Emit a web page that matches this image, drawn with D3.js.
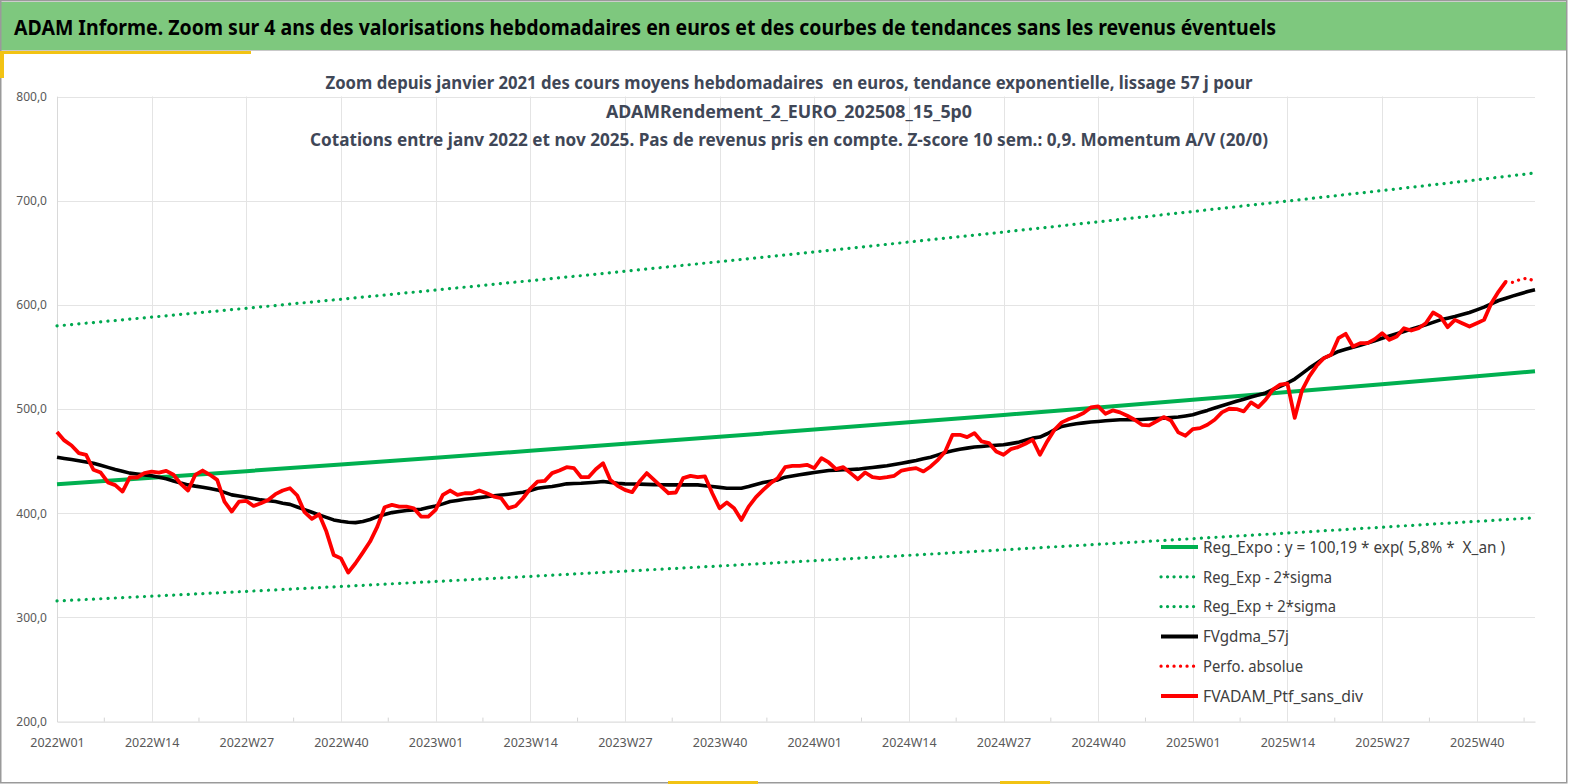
<!DOCTYPE html>
<html>
<head>
<meta charset="utf-8">
<script src="https://cdn.jsdelivr.net/npm/d3@7"></script>
<style>
  body { margin: 0; background: #fff; }
  svg { display: block; font-family: "Noto Sans", "Open Sans", sans-serif; }
</style>
</head>
<body>
<div id="chart"></div>
<script>
// Weekly categories: 2022W01 .. 2025W48
const startYear = 2022;
const weeksPerYear = 52;
const nWeeks = 204;

// FVADAM_Ptf_sans_div (weekly average, euros)
const redValues = [
  477.9, 469.9, 465.0, 457.7, 456.0, 441.7, 439.0, 429.5, 427.0, 420.8,
  434.3, 434.3, 438.5, 440.0, 439.0, 440.7, 436.9, 428.2, 421.8, 436.9,
  441.0, 436.9, 432.0, 411.2, 401.6, 411.2, 411.9, 407.0, 409.6, 412.8,
  418.3, 421.8, 424.0, 417.0, 401.0, 394.6, 399.0, 382.4, 360.0, 356.7,
  343.0, 352.0, 362.2, 372.8, 387.2, 405.8, 408.0, 406.4, 406.4, 404.8,
  396.8, 396.8, 403.2, 417.6, 421.8, 417.6, 419.2, 419.2, 421.8, 419.2,
  416.0, 414.4, 404.8, 407.0, 414.4, 423.5, 430.4, 431.1, 438.5, 441.0,
  444.2, 443.3, 434.6, 434.6, 442.3, 448.0, 432.0, 426.3, 422.4, 420.2,
  430.4, 438.5, 432.0, 425.6, 419.2, 419.9, 433.7, 435.9, 434.6, 435.3,
  419.2, 404.8, 410.3, 404.8, 393.6, 406.4, 415.4, 422.4, 428.8, 433.7,
  444.2, 445.5, 445.5, 446.5, 443.3, 452.9, 448.7, 442.3, 444.2, 438.5,
  432.7, 439.1, 434.6, 433.7, 434.6, 435.9, 441.0, 442.3, 443.3, 440.1,
  444.9, 451.3, 459.3, 475.3, 475.3, 473.1, 476.9, 468.9, 467.3, 459.3,
  456.1, 461.5, 463.5, 466.7, 470.5, 456.1, 468.9, 480.1, 487.2, 490.4,
  492.9, 496.2, 501.6, 502.6, 495.5, 498.7, 496.8, 493.6, 489.7, 484.9,
  484.3, 488.1, 492.3, 489.1, 477.6, 474.4, 480.8, 481.7, 484.9, 489.7,
  496.8, 500.3, 500.0, 497.8, 506.4, 501.9, 509.0, 518.6, 523.4, 524.4,
  491.6, 518.0, 531.3, 541.5, 548.9, 552.1, 568.0, 572.2, 560.0, 563.3,
  563.3, 567.1, 572.8, 566.5, 569.6, 577.6, 575.4, 577.6, 582.4, 592.7,
  588.8, 578.6, 585.6, 582.4, 579.2, 582.4, 585.6, 601.6, 612.8, 622.4
];

// FVgdma_57j (smoothed)
const maValues = [
  453.8, 452.6, 451.5, 450.3, 449.2, 448.0, 446.0, 444.0, 442.0, 440.3,
  438.5, 437.6, 436.8, 435.9, 434.5, 433.0, 431.0, 429.0, 427.2, 426.0,
  425.0, 423.7, 422.4, 420.0, 417.6, 416.5, 415.4, 414.1, 412.8, 412.0,
  411.2, 409.6, 408.5, 406.0, 403.5, 401.0, 398.4, 396.0, 393.6, 392.3,
  391.3, 391.0, 392.0, 394.0, 396.8, 398.7, 400.6, 401.6, 402.6, 403.2,
  403.8, 405.4, 407.0, 409.0, 411.2, 412.3, 413.5, 414.2, 415.0, 415.9,
  416.7, 417.5, 418.3, 419.2, 420.2, 421.8, 424.0, 425.0, 425.6, 426.9,
  428.2, 428.5, 428.8, 429.3, 429.8, 430.4, 429.6, 428.8, 428.2, 428.0,
  427.9, 427.7, 427.5, 427.3, 427.2, 427.2, 427.2, 427.2, 427.2, 426.4,
  425.6, 424.8, 424.0, 424.0, 424.0, 425.6, 427.5, 429.5, 430.8, 432.0,
  434.6, 435.8, 436.9, 438.0, 439.1, 440.0, 441.0, 441.3, 441.7, 442.0,
  442.3, 443.1, 443.9, 444.7, 445.5, 446.7, 448.0, 449.3, 450.6, 452.2,
  453.8, 456.0, 458.3, 459.9, 461.5, 462.5, 463.5, 464.1, 464.7, 465.2,
  465.7, 466.8, 468.0, 470.0, 472.1, 473.1, 476.3, 480.1, 483.3, 484.6,
  485.9, 486.7, 487.5, 488.1, 488.8, 489.2, 489.7, 489.7, 489.7, 490.0,
  490.4, 490.8, 491.3, 491.8, 492.3, 493.4, 494.6, 496.6, 498.7, 501.0,
  503.2, 505.3, 507.4, 509.4, 511.5, 513.4, 515.4, 518.6, 521.8, 525.0,
  528.8, 534.0, 539.3, 544.0, 548.9, 552.0, 555.3, 557.3, 559.4, 561.3,
  563.3, 565.6, 568.0, 570.1, 572.2, 574.4, 576.7, 578.7, 580.8, 583.2,
  585.6, 587.2, 588.8, 590.7, 592.7, 595.2, 597.8, 601.0, 604.2, 606.4,
  608.6, 610.7, 612.8, 614.4
];

// Perfo. absolue (last weeks, dotted)
const perfoStart = 199;
const perfoValues = [622.4, 621.5, 624.6, 625.6, 622.4];

// Trend and bands, read at the grid weeks
const trendWeeks = ["2022W01", "2022W14", "2022W27", "2022W40", "2023W01", "2023W14", "2023W27", "2023W40",
  "2024W01", "2024W14", "2024W27", "2024W40", "2025W01", "2025W14", "2025W27", "2025W40", "2025W48"];
const trendValues = [427.9, 434.1, 440.4, 446.8, 453.3, 459.9, 466.6, 473.4, 480.3, 487.3, 494.4, 501.6, 508.9, 516.3, 523.8, 531.4, 536.2];
const lowerValues = [315.8, 320.4, 325.0, 329.7, 334.5, 339.4, 344.4, 349.4, 354.5, 359.6, 364.9, 370.2, 375.6, 381.0, 386.6, 392.2, 395.7];
const upperValues = [579.8, 588.2, 596.7, 605.4, 614.2, 623.2, 632.2, 641.5, 650.8, 660.3, 669.9, 679.7, 689.6, 699.6, 709.7, 720.0, 726.6];

const tickLabels = ["2022W01", "2022W14", "2022W27", "2022W40", "2023W01", "2023W14", "2023W27", "2023W40",
  "2024W01", "2024W14", "2024W27", "2024W40", "2025W01", "2025W14", "2025W27", "2025W40"];
const yTicks = [200, 300, 400, 500, 600, 700, 800];

const headerText = "ADAM Informe. Zoom sur 4 ans des valorisations hebdomadaires en euros et des courbes de tendances sans les revenus éventuels";
const titleLines = [
  "Zoom depuis janvier 2021 des cours moyens hebdomadaires  en euros, tendance exponentielle, lissage 57 j pour",
  "ADAMRendement_2_EURO_202508_15_5p0",
  "Cotations entre janv 2022 et nov 2025. Pas de revenus pris en compte. Z-score 10 sem.: 0,9. Momentum A/V (20/0)"
];

// build the week categories
const categories = [];
for (let yr = startYear; categories.length < nWeeks; yr++) {
  for (let w = 1; w <= weeksPerYear && categories.length < nWeeks; w++) {
    categories.push(yr + "W" + String(w).padStart(2, "0"));
  }
}

const width = 1569, height = 784;
const svg = d3.select("#chart").append("svg")
  .attr("width", width)
  .attr("height", height);

// frame and header band
svg.append("rect").attr("x", 0).attr("y", 0).attr("width", width).attr("height", height).attr("fill", "#fff");
svg.append("rect")
  .attr("x", 1).attr("y", 2).attr("width", 1565).attr("height", 48)
  .attr("fill", "#7ec87e");
svg.append("line").attr("x1", 0).attr("x2", 1567).attr("y1", 50.5).attr("y2", 50.5)
  .attr("stroke", "#c9c9c9").attr("stroke-width", 1);
svg.append("rect").attr("x", 0.75).attr("y", 0.75).attr("width", 1566).attr("height", 782)
  .attr("fill", "none").attr("stroke", "#9a9a9a").attr("stroke-width", 1.5);
// yellow accents
svg.append("rect").attr("x", 0).attr("y", 51).attr("width", 251).attr("height", 3).attr("fill", "#f2c314");
svg.append("rect").attr("x", 0).attr("y", 51).attr("width", 4).attr("height", 27).attr("fill", "#f2c314");
svg.append("rect").attr("x", 668).attr("y", 781).attr("width", 90).attr("height", 3).attr("fill", "#f2c314");
svg.append("rect").attr("x", 1000).attr("y", 781).attr("width", 50).attr("height", 3).attr("fill", "#f2c314");

svg.append("text")
  .attr("x", 14).attr("y", 35)
  .attr("font-size", 21).attr("font-weight", "bold")
  .attr("fill", "#000")
  .attr("textLength", 1262).attr("lengthAdjust", "spacingAndGlyphs")
  .text(headerText);

// scales
const x = d3.scalePoint().domain(categories).range([57, 1535]);
const y = d3.scaleLinear().domain([200, 800]).range([721.6, 96.5]);

const locale = d3.formatLocale({ decimal: ",", thousands: " ", grouping: [3], currency: ["", " €"] });
const fmt = locale.format(".1f");

// gridlines
svg.append("g")
  .selectAll("line")
  .data(yTicks.slice(1))
  .join("line")
  .attr("x1", 57).attr("x2", 1535)
  .attr("y1", d => Math.round(y(d)) + 0.5).attr("y2", d => Math.round(y(d)) + 0.5)
  .attr("stroke", "#e4e4e4").attr("stroke-width", 1);

svg.append("g")
  .selectAll("line")
  .data(tickLabels)
  .join("line")
  .attr("x1", d => Math.round(x(d)) + 0.5).attr("x2", d => Math.round(x(d)) + 0.5)
  .attr("y1", y(800)).attr("y2", y(200))
  .attr("stroke", "#e4e4e4").attr("stroke-width", 1);

// chart title (on top of the gridlines)
const titleWidths = [927, 366, 958];
const titleY = [89, 117.5, 146];
titleLines.forEach((t, i) => {
  svg.append("text")
    .attr("x", 789).attr("y", titleY[i])
    .attr("text-anchor", "middle")
    .attr("font-size", 18.5).attr("font-weight", "bold")
    .attr("fill", "#3f4757")
    .attr("textLength", titleWidths[i]).attr("lengthAdjust", "spacingAndGlyphs")
    .style("white-space", "pre")
    .text(t);
});

// y axis
const yAxis = svg.append("g")
  .attr("transform", "translate(57,0)")
  .call(d3.axisLeft(y).tickValues(yTicks).tickFormat(fmt).tickSize(0).tickPadding(10));
yAxis.select(".domain").attr("stroke", "#d9d9d9");
yAxis.selectAll("text").attr("font-size", 12).attr("fill", "#595959")
  .attr("font-family", "'Noto Sans', sans-serif");

// x axis
const xAxis = svg.append("g")
  .attr("transform", `translate(0,${y(200)})`)
  .call(d3.axisBottom(x).tickValues(tickLabels).tickSize(0).tickPadding(17));
xAxis.select(".domain").attr("stroke", "#d4d4d4");
xAxis.selectAll("text").attr("font-size", 12.5).attr("fill", "#595959")
  .attr("font-family", "'Noto Sans', sans-serif");

// small ticks between labelled weeks
const step = x.step();
svg.append("g")
  .selectAll("line")
  .data(tickLabels)
  .join("line")
  .attr("x1", d => x(d) + step * 6.5).attr("x2", d => x(d) + step * 6.5)
  .attr("y1", y(200) - 4).attr("y2", y(200))
  .attr("stroke", "#d4d4d4").attr("stroke-width", 1);

// series
const line = d3.line()
  .x(d => x(d[0]))
  .y(d => y(d[1]));

const dotted = (sel, color) => sel
  .attr("fill", "none")
  .attr("stroke", color)
  .attr("stroke-width", 3.2)
  .attr("stroke-linecap", "round")
  .attr("stroke-dasharray", "0.1 7.2");

svg.append("path")
  .attr("d", line(trendWeeks.map((w, i) => [w, upperValues[i]])))
  .call(dotted, "#00a850");
svg.append("path")
  .attr("d", line(trendWeeks.map((w, i) => [w, lowerValues[i]])))
  .call(dotted, "#00a850");

svg.append("path")
  .attr("d", line(trendWeeks.map((w, i) => [w, trendValues[i]])))
  .attr("fill", "none").attr("stroke", "#00b050").attr("stroke-width", 4);

svg.append("path")
  .attr("d", line(maValues.map((v, i) => [categories[i], v])))
  .attr("fill", "none").attr("stroke", "#000").attr("stroke-width", 3.6)
  .attr("stroke-linejoin", "round");

svg.append("path")
  .attr("d", line(perfoValues.map((v, i) => [categories[perfoStart + i], v])))
  .call(dotted, "#ff0000")
  .attr("stroke-dasharray", "0.1 6.5");

svg.append("path")
  .attr("d", line(redValues.map((v, i) => [categories[i], v])))
  .attr("fill", "none").attr("stroke", "#ff0000").attr("stroke-width", 3.8)
  .attr("stroke-linejoin", "round");

// legend
const legendItems = [
  { label: "Reg_Expo : y = 100,19 * exp( 5,8% *  X_an )", color: "#00b050", dots: false, w: 302 },
  { label: "Reg_Exp - 2*sigma", color: "#00a850", dots: true, w: 129 },
  { label: "Reg_Exp + 2*sigma", color: "#00a850", dots: true, w: 133 },
  { label: "FVgdma_57j", color: "#000", dots: false, w: 86 },
  { label: "Perfo. absolue", color: "#ff0000", dots: true, w: 100 },
  { label: "FVADAM_Ptf_sans_div", color: "#ff0000", dots: false, w: 160 }
];
const legend = svg.append("g");
legendItems.forEach((d, i) => {
  const cy = 547 + i * 29.8;
  const l = legend.append("line")
    .attr("x1", 1161).attr("x2", 1198).attr("y1", cy).attr("y2", cy);
  if (d.dots) l.call(dotted, d.color).attr("stroke-dasharray", "0.1 6.4");
  else l.attr("stroke", d.color).attr("stroke-width", 4);
  legend.append("text")
    .attr("x", 1203).attr("y", cy + 5.8)
    .attr("font-size", 16).attr("fill", "#404040")
    .attr("textLength", d.w).attr("lengthAdjust", "spacingAndGlyphs")
    .style("white-space", "pre")
    .text(d.label);
});
</script>
</body>
</html>
